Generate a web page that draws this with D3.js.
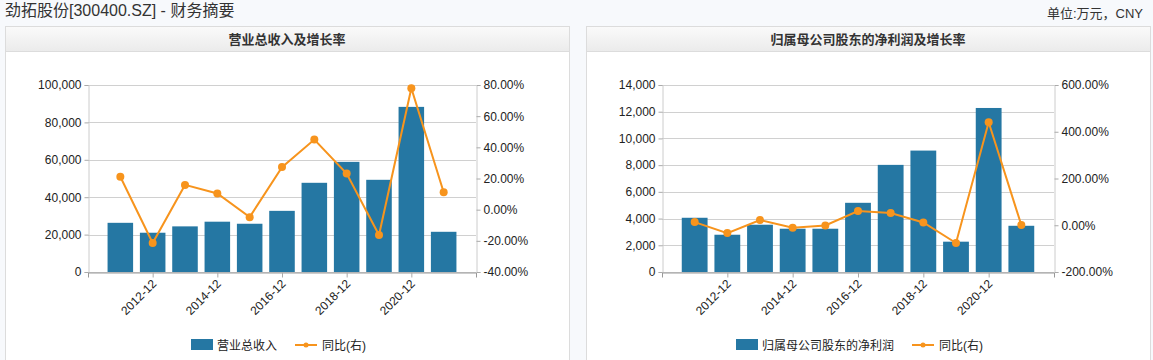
<!DOCTYPE html>
<html><head><meta charset="utf-8">
<script src="https://cdn.jsdelivr.net/npm/d3@7"></script>
<style>
html,body{margin:0;padding:0;background:#f7f9fc;}
svg{display:block;font-family:"Liberation Sans","Noto Sans CJK SC",sans-serif;}
</style></head>
<body><svg id="c" width="1153" height="360"></svg>
<script>
const categories = ["2011-12","2012-12","2013-12","2014-12","2015-12","2016-12","2017-12","2018-12","2019-12","2020-12","2021-03"];
const shownTicks = ["2012-12","2014-12","2016-12","2018-12","2020-12"];
const revenue = [26300,21000,24400,26900,25800,32700,47700,58900,49300,88300,21500];
const revenueYoY = [21.1,-21.4,15.9,10.4,-4.8,27.3,45.0,23.2,-16.3,77.9,11.2];
const profit = [4060,2790,3540,3240,3240,5180,8020,9090,2270,12280,3460];
const profitYoY = [13.5,-33.5,22.0,-11.0,-1.0,60.5,52.0,12.0,-76.0,440.6,0.7];
const leftTicks1 = [0,20000,40000,60000,80000,100000];
const rightTicks1 = [-40,-20,0,20,40,60,80];
const leftTicks2 = [0,2000,4000,6000,8000,10000,12000,14000];
const rightTicks2 = [-200,0,200,400,600];

const svg = d3.select("#c");
const BAR = "#2577a3", LINE = "#f7941d";

svg.append("text").attr("x",5).attr("y",16).attr("font-size",16).attr("fill","#333")
  .text("劲拓股份[300400.SZ] - 财务摘要");
svg.append("text").attr("x",1143).attr("y",18).attr("font-size",13).attr("fill","#333")
  .attr("text-anchor","end").text("单位:万元，CNY");

const grad = svg.append("defs").append("linearGradient").attr("id","hg").attr("x1",0).attr("y1",0).attr("x2",0).attr("y2",1);
grad.append("stop").attr("offset","0%").attr("stop-color","#fafafa");
grad.append("stop").attr("offset","100%").attr("stop-color","#ebebeb");

function panel(px, pw, title, x0, x1, vals, yoy, lTicks, rTicks, legendName, legendX) {
  const g = svg.append("g");
  g.append("rect").attr("x",px+0.5).attr("y",26.5).attr("width",pw).attr("height",340).attr("fill","#fff").attr("stroke","#dcdcdc");
  g.append("rect").attr("x",px+0.5).attr("y",26.5).attr("width",pw).attr("height",25).attr("fill","url(#hg)").attr("stroke","#dcdcdc");
  g.append("text").attr("x",px+pw/2).attr("y",44).attr("text-anchor","middle").attr("font-size",13).attr("font-weight","bold").attr("fill","#333").text(title);

  const y0 = 272, y1 = 85;
  const x = d3.scalePoint().domain(categories).range([x0,x1]).padding(1);
  const yL = d3.scaleLinear().domain([lTicks[0], lTicks[lTicks.length-1]]).range([y0,y1]);
  const yR = d3.scaleLinear().domain([rTicks[0], rTicks[rTicks.length-1]]).range([y0,y1]);
  const bw = x.step()*0.79;

  g.append("g").selectAll("line").data(lTicks).join("line")
    .attr("x1",x0).attr("x2",x1).attr("y1",d=>Math.round(yL(d))+0.5).attr("y2",d=>Math.round(yL(d))+0.5)
    .attr("stroke","#d0d0d0");

  g.append("g").selectAll("rect").data(vals).join("rect")
    .attr("x",(d,i)=>x(categories[i])-bw/2).attr("width",bw)
    .attr("y",d=>yL(d)).attr("height",d=>y0-yL(d)).attr("fill",BAR);

  const axL = d3.axisLeft(yL).tickValues(lTicks).tickSize(4).tickFormat(d3.format(","));
  const gl = g.append("g").attr("transform",`translate(${x0+0.5},0)`).call(axL);
  const axR = d3.axisRight(yR).tickValues(rTicks).tickSize(4).tickFormat(d=>d.toFixed(2)+"%");
  const gr = g.append("g").attr("transform",`translate(${x1+0.5},0)`).call(axR);
  const axB = d3.axisBottom(x).tickValues(shownTicks).tickSize(5).tickSizeOuter(5);
  const gb = g.append("g").attr("transform",`translate(0,${y0+0.5})`).call(axB);
  [gl,gr,gb].forEach(a=>{
    a.selectAll("path,line").attr("stroke","#aaa");
    a.selectAll("text").attr("font-size",12).attr("fill","#222").attr("font-family","Liberation Sans, sans-serif");
  });
  gl.select("path").attr("stroke","#ccc"); gr.select("path").attr("stroke","#ccc");
  gb.select("path").attr("stroke","#999");
  gb.selectAll("text").attr("text-anchor","end").attr("dy",null).attr("y",0)
    .attr("transform","translate(4,12) rotate(-45)");

  const ln = d3.line().x((d,i)=>x(categories[i])).y(d=>yR(d));
  g.append("path").datum(yoy).attr("d",ln).attr("fill","none").attr("stroke",LINE).attr("stroke-width",2);
  g.append("g").selectAll("circle").data(yoy).join("circle")
    .attr("cx",(d,i)=>x(categories[i])).attr("cy",d=>yR(d)).attr("r",4).attr("fill",LINE);

  const lg = g.append("g").attr("transform",`translate(${legendX},0)`);
  lg.append("rect").attr("x",0).attr("y",339).attr("width",22).attr("height",11).attr("fill",BAR);
  const t1 = lg.append("text").attr("x",26).attr("y",350).attr("font-size",12).attr("fill","#222").text(legendName);
  const w = t1.node().getComputedTextLength();
  const lx = 26 + w + 18;
  lg.append("line").attr("x1",lx).attr("x2",lx+22).attr("y1",345).attr("y2",345).attr("stroke",LINE).attr("stroke-width",2);
  lg.append("circle").attr("cx",lx+11).attr("cy",345).attr("r",2.5).attr("fill",LINE);
  lg.append("text").attr("x",lx+27).attr("y",350).attr("font-size",12).attr("fill","#222").text("同比(右)");
}

panel(5, 564, "营业总收入及增长率", 88, 476, revenue, revenueYoY, leftTicks1, rightTicks1, "营业总收入", 191);
panel(586, 564, "归属母公司股东的净利润及增长率", 662, 1054, profit, profitYoY, leftTicks2, rightTicks2, "归属母公司股东的净利润", 736);
</script></body></html>
